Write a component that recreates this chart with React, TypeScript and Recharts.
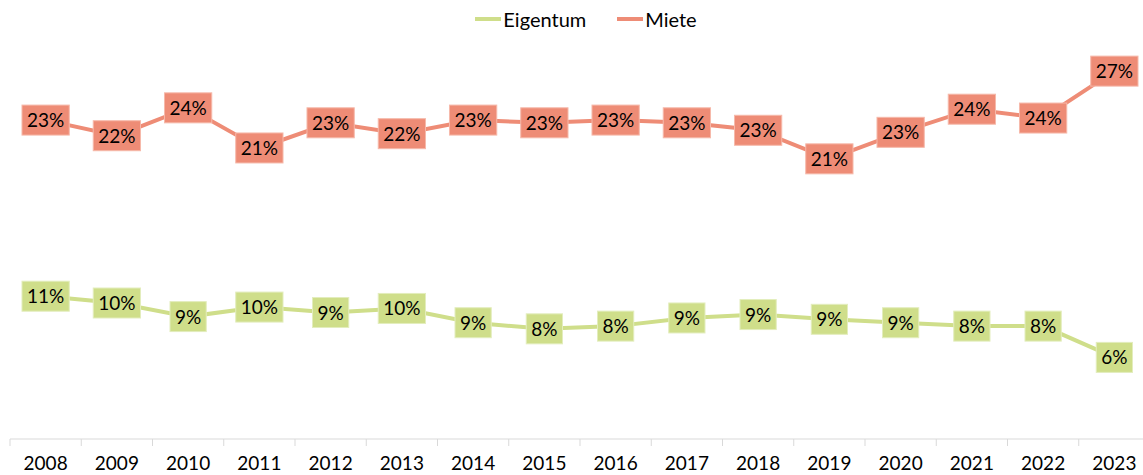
import React from 'react';
import { LineChart, Line, XAxis, YAxis, Legend } from 'recharts';

// share of income spent on housing, in %
const years = ['2008', '2009', '2010', '2011', '2012', '2013', '2014', '2015', '2016', '2017', '2018', '2019', '2020', '2021', '2022', '2023'];
const eigentum = [10.5, 10.0, 9.0, 9.7, 9.3, 9.6, 8.55, 8.1, 8.3, 8.9, 9.15, 8.8, 8.55, 8.3, 8.3, 6.0];
const miete = [23.45, 22.3, 24.35, 21.4, 23.25, 22.45, 23.45, 23.25, 23.45, 23.25, 22.7, 20.6, 22.55, 24.25, 23.6, 27.05];

const GREEN = '#cfde8a';
const RED = '#ee8c76';
const FONT = 'Lato, "Open Sans", sans-serif';

const data = years.map((year, i) => ({ year, Eigentum: eigentum[i], Miete: miete[i] }));

let ctx: CanvasRenderingContext2D | null = null;
const textWidth = (s: string) => {
  if (!ctx) ctx = document.createElement('canvas').getContext('2d');
  if (!ctx) return s.length * 11;
  ctx.font = `19px ${FONT}`;
  return ctx.measureText(s).width;
};

const boxLabel = (fill: string, border: string) => (props: any) => {
  const { x, y, value } = props;
  if (x == null || y == null) return null;
  const txt = Math.round(value) + '%';
  const w = textWidth(txt) + 10;
  return (
    <g>
      <rect x={x - w / 2} y={y - 15} width={w} height={30} fill={fill} stroke={border} strokeWidth={1} />
      <text x={x} y={y + 7} textAnchor="middle" fontSize={19} fontFamily={FONT} fill="#000">{txt}</text>
    </g>
  );
};

const YearTick = (props: any) => {
  const { x, y, payload, width, visibleTicksCount, index } = props;
  const half = width && visibleTicksCount ? width / visibleTicksCount / 2 : 0;
  return (
    <g>
      {half > 0 && <line x1={x - half} x2={x - half} y1={y} y2={y + 7} stroke="#d9d9d9" />}
      {half > 0 && index === visibleTicksCount - 1 && <line x1={x + half} x2={x + half} y1={y} y2={y + 7} stroke="#d9d9d9" />}
      <text x={x} y={y + 31} textAnchor="middle" fontSize={19} fontFamily={FONT} fill="#000">{payload.value}</text>
    </g>
  );
};

const LegendBox = () => (
  <div style={{ display: 'flex', justifyContent: 'center', alignItems: 'center', height: 31, paddingLeft: 12, fontFamily: FONT, fontSize: 20, color: '#000' }}>
    {[['Eigentum', GREEN], ['Miete', RED]].map(([name, color], i) => (
      <div key={name} style={{ display: 'flex', alignItems: 'center', marginRight: i === 0 ? 31 : 0, marginTop: 6 }}>
        <span style={{ display: 'inline-block', width: 26, height: 4, background: color, marginRight: 2 }} />
        <span>{name}</span>
      </div>
    ))}
  </div>
);

export default function App() {
  return (
    <div style={{ width: 1143, height: 475, overflow: 'hidden', position: 'relative' }}>
      <style>{'body{margin:0}'}</style>
      <LineChart width={1150} height={475} data={data} margin={{ top: 0, right: 0, bottom: 0, left: 10 }}>
        <Legend verticalAlign="top" height={31} content={() => <LegendBox />} />
        <XAxis dataKey="year" scale="band" interval={0} height={36} tickSize={0} tickMargin={0} tickLine={false}
          axisLine={{ stroke: '#d9d9d9' }} tick={<YearTick />} />
        <YAxis hide domain={[0, 30]} />
        <Line dataKey="Eigentum" stroke={GREEN} strokeWidth={4} dot={false} isAnimationActive={false}
          label={boxLabel(GREEN, '#e3edbd')} />
        <Line dataKey="Miete" stroke={RED} strokeWidth={4} dot={false} isAnimationActive={false}
          label={boxLabel(RED, '#f6b9aa')} />
      </LineChart>
    </div>
  );
}
